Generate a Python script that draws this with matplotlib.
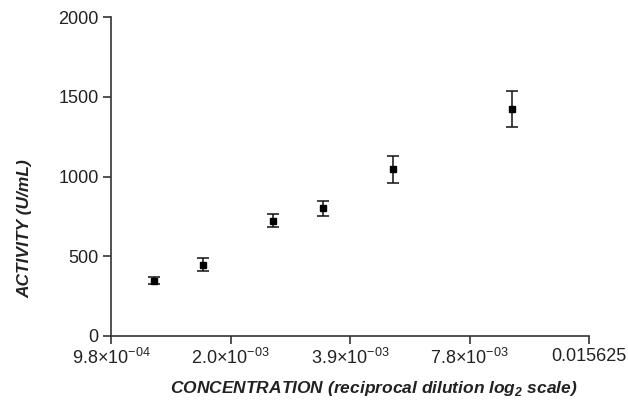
import matplotlib.pyplot as plt
import matplotlib as mpl

# reciprocal dilutions and measured activity
conc = [1/800, 1/600, 1/400, 1/300, 1/200, 1/100]
activity = [345, 445, 722, 800, 1045, 1425]
sd = [22, 41, 40, 49, 86, 114]

xticks = [2**-10, 2**-9, 2**-8, 2**-7, 2**-6]
xticklabels = [r'9.8×10$^{\mathregular{-04}}$', r'2.0×10$^{\mathregular{-03}}$',
               r'3.9×10$^{\mathregular{-03}}$', r'7.8×10$^{\mathregular{-03}}$',
               '0.015625']
yticks = [0, 500, 1000, 1500, 2000]

mpl.rcParams['font.family'] = ['Liberation Sans', 'DejaVu Sans']

fig = plt.figure(figsize=(6.28, 4.05), dpi=100)
ax = fig.add_axes([0.177, 0.171, 0.761, 0.786])

ax.errorbar(conc, activity, yerr=sd, fmt='s', color='black', ms=4,
            ecolor='#111111', elinewidth=1.1, capsize=4, capthick=1.1)

ax.set_xscale('log', base=2)
ax.set_xlim(2**-10, 2**-6)
ax.set_ylim(0, 2000)
ax.set_xticks(xticks)
ax.set_xticklabels(xticklabels)
ax.minorticks_off()
ax.set_yticks(yticks)

for s in ['top', 'right']:
    ax.spines[s].set_visible(False)
for s in ['left', 'bottom']:
    ax.spines[s].set_linewidth(1.2)
    ax.spines[s].set_color('#333333')
ax.tick_params(length=6, width=1.2, color='#333333', labelsize=13,
               labelcolor='#222222', pad=3)

ax.set_xlabel(r'CONCENTRATION (reciprocal dilution log$_\mathregular{2}$ scale)',
              fontsize=12.5, fontweight='bold', style='italic', color='#222222')
ax.set_ylabel('ACTIVITY (U/mL)', fontsize=12.5, fontweight='bold', style='italic',
              color='#222222')
ax.xaxis.set_label_coords(0.55, -0.135)
ax.yaxis.set_label_coords(-0.165, 0.336)

fig.savefig('out.png', dpi=100)
